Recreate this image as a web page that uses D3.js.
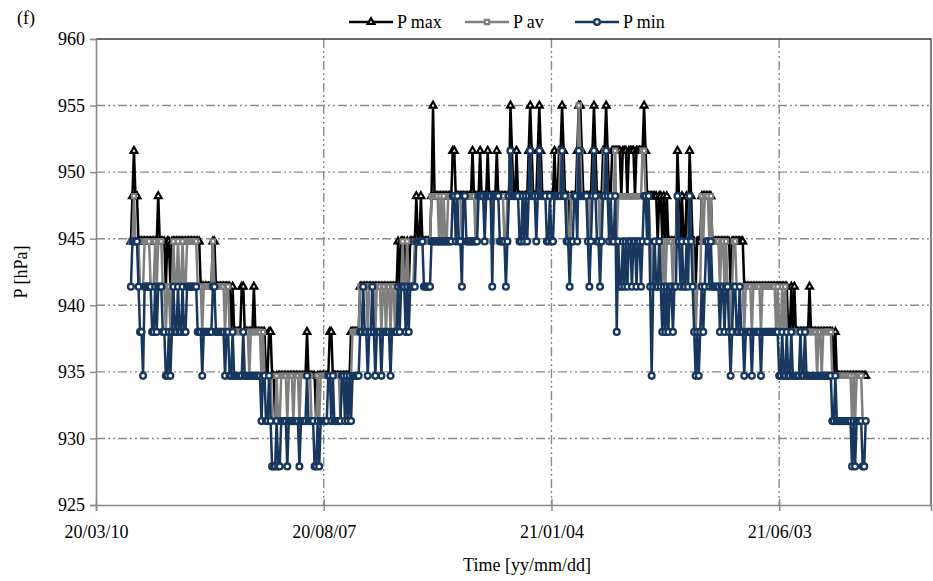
<!DOCTYPE html>
<html>
<head>
<meta charset="utf-8">
<title>P max / P av / P min</title>
<script src="https://cdn.jsdelivr.net/npm/d3@7"></script>
<style>
  body { margin: 0; background: #fff; }
  svg text { font-family: "Liberation Serif", "Times New Roman", Tinos, "DejaVu Serif", serif; fill: #000; }
</style>
</head>
<body>
<svg id="chart" width="933" height="581"></svg>
<script>
// pressure steps (0.1 inHg apart), hPa
var levels = [927.9, 931.3, 934.7, 938.0, 941.4, 944.8, 948.2, 951.6, 955.0];

// one digit per day = index into levels, 10 days per block, first day 2020-04-02
var firstDay = "2020-04-02";
var pMinCodes = [
  "4555543324", "4444334344", "4332232343", "3433433444", "4444333233",
  "3333443333", "3323322322", "2222322222", "2222221221", "1210001001",
  "1110111111", "1011112111", "1001011111", "2212111112", "2121212222",
  "2334332334", "3233323333", "3233334344", "4343444455", "5554444455",
  "5555555555", "5566565546", "6555555556", "6665666646", "6665555456",
  "7666665565", "6567666567", "6666556556", "6666766554", "5566576666",
  "6545676554", "5667656556", "3544545455", "4554554566", "5642454454",
  "3434344344", "6545445465", "4323234345", "5454444434", "4344323443",
  "3433233332", "3333323333", "3333333223", "2232232222", "2322322222",
  "2222222222", "2211211111", "1111101011", "11001"
];
var pAvCodes = [
  "5565554445", "5554445455", "5443443454", "4544544555", "5555444344",
  "4444544444", "4434433333", "3333333323", "3333332322", "2221112112",
  "2221222122", "2122222221", "1112122222", "2222222212", "2222223333",
  "3444443444", "4344434434", "4344344445", "4454444555", "5555555566",
  "6665656556", "6666666656", "6666666566", "6666666656", "6666665566",
  "7666666666", "6667666667", "6666666666", "6667766655", "6666687666",
  "6656676665", "6677666667", "5666666666", "6666666776", "6654555555",
  "4545555455", "6555555565", "5434446566", "6565555545", "5454434554",
  "4444344443", "4444434444", "4444434334", "3433333333", "3333333333",
  "3323323333", "3322222222", "2222212122", "22111"
];
var pMaxCodes = [
  "5676655555", "5555555565", "5554554555", "5555555555", "5555554444",
  "4444554444", "4444443433", "3334433333", "3433333332", "2332212222",
  "2222222222", "2222223222", "2212222222", "2332222222", "2222233333",
  "3444444444", "4444444444", "4444445455", "5454555565", "5655555568",
  "6666666666", "6677666666", "6666676666", "7666676666", "6766666666",
  "8766766666", "6678766678", "7666666667", "6677876665", "6666788766",
  "6666787666", "6778766777", "7776777677", "7767777787", "6666666566",
  "5656555555", "7656556576", "5545556666", "6665555555", "5555545555",
  "5555444444", "4444444444", "4444444444", "4443343433", "3333333433",
  "3333333333", "3332322222", "2222222222", "22222"
];

var seriesNames = ["P max", "P av", "P min"];
var seriesColors = ["#000000", "#7f7f7f", "#17375e"];
var seriesMarks = ["triangle", "square", "circle"];

var xDomain = ["2020-03-10", "2021-09-11"];
var xTickDates = ["2020-03-10", "2020-08-07", "2021-01-04", "2021-06-03"];
var yTicks = [925, 930, 935, 940, 945, 950, 955, 960];

var parse = d3.utcParse("%Y-%m-%d");
var fmt = d3.utcFormat("%y/%m/%d");
var day0 = parse(firstDay);
var serif = "'Liberation Serif', 'Times New Roman', Tinos, 'DejaVu Serif', serif";

function decode(codes) {
  return codes.join("").split("").map(function(c, i) {
    return { date: d3.utcDay.offset(day0, i), p: levels[+c] };
  });
}
var series = [decode(pMaxCodes), decode(pAvCodes), decode(pMinCodes)];

var svg = d3.select("#chart");
var plotL = 96, plotR = 931, plotT = 39, plotB = 505;

var x = d3.scaleUtc().domain(xDomain.map(parse)).range([plotL, plotR]);
var y = d3.scaleLinear().domain([925, 960]).range([plotB, plotT]);

var dash = "9,3,2,3,2,3";

// horizontal grid
svg.append("g").selectAll("line")
  .data(yTicks.slice(1, -1))
  .enter().append("line")
  .attr("x1", plotL).attr("x2", plotR)
  .attr("y1", function(d) { return y(d); }).attr("y2", function(d) { return y(d); })
  .style("stroke", "#8a8a8a").style("stroke-width", 1.4).style("stroke-dasharray", dash);

// vertical grid
svg.append("g").selectAll("line")
  .data(xTickDates.slice(1).map(parse))
  .enter().append("line")
  .attr("x1", function(d) { return x(d); }).attr("x2", function(d) { return x(d); })
  .attr("y1", plotT).attr("y2", plotB)
  .style("stroke", "#8a8a8a").style("stroke-width", 1.4).style("stroke-dasharray", dash);

// frame top + right
svg.append("path")
  .attr("d", "M" + plotL + "," + plotT + "H" + plotR + "V" + plotB)
  .style("fill", "none").style("stroke", "#3a3a3a").style("stroke-width", 1.3);

// y axis
var yAxis = d3.axisLeft(y).tickValues(yTicks).tickSize(6).tickPadding(5).tickFormat(d3.format("d"));
var gy = svg.append("g").attr("transform", "translate(" + plotL + ",0)").call(yAxis);
gy.select(".domain").style("stroke", "#888").style("stroke-width", 1.6);
gy.selectAll(".tick line").style("stroke", "#888").style("stroke-width", 1.4);
gy.selectAll(".tick text").style("font-family", serif).style("font-size", "18px");

// x axis
var xAxis = d3.axisBottom(x).tickValues(xTickDates.map(parse)).tickSize(6).tickPadding(14).tickFormat(fmt);
var gx = svg.append("g").attr("transform", "translate(0," + plotB + ")").call(xAxis);
gx.select(".domain").style("stroke", "#888").style("stroke-width", 1.6);
gx.selectAll(".tick line").attr("y1", -6).style("stroke", "#888").style("stroke-width", 1.4);
gx.selectAll(".tick text").style("font-family", serif).style("font-size", "18px");

// lines + markers
var line = d3.line().x(function(d) { return x(d.date); }).y(function(d) { return y(d.p); });
var tri = d3.symbol().type(d3.symbolTriangle).size(20)();
var sq = d3.symbol().type(d3.symbolSquare).size(18)();

function drawMarks(g, pts, i) {
  var color = seriesColors[i];
  if (seriesMarks[i] === "circle") {
    g.selectAll("circle").data(pts).enter().append("circle")
      .attr("cx", function(d) { return d[0]; })
      .attr("cy", function(d) { return d[1]; })
      .attr("r", 2.9)
      .style("fill", "#fff").style("stroke", color).style("stroke-width", 2.3);
  } else {
    g.selectAll("path.m").data(pts).enter().append("path").attr("class", "m")
      .attr("d", seriesMarks[i] === "triangle" ? tri : sq)
      .attr("transform", function(d) { return "translate(" + d[0] + "," + d[1] + ")"; })
      .style("fill", "#fff").style("stroke", color).style("stroke-width", 2.2);
  }
}

series.forEach(function(data, i) {
  var g = svg.append("g");
  g.append("path").datum(data).attr("d", line)
    .style("fill", "none").style("stroke", seriesColors[i])
    .style("stroke-width", 2.5).style("stroke-linejoin", "round");
  drawMarks(g, data.map(function(d) { return [x(d.date), y(d.p)]; }), i);
});

// legend
var legX = [349, 465, 575];
seriesNames.forEach(function(name, i) {
  var g = svg.append("g").attr("transform", "translate(" + legX[i] + ",22)");
  g.append("line").attr("x1", 0).attr("x2", 44)
    .style("stroke", seriesColors[i]).style("stroke-width", 2.5);
  drawMarks(g, [[22, 0]], i);
  g.append("text").attr("x", 48).attr("y", 6)
    .style("font-family", serif).style("font-size", "18px").text(name);
});

// axis titles and panel tag
svg.append("text").attr("x", 527).attr("y", 571).attr("text-anchor", "middle")
  .style("font-family", serif).style("font-size", "18px").text("Time [yy/mm/dd]");
svg.append("text").attr("transform", "translate(27,272) rotate(-90)").attr("text-anchor", "middle")
  .style("font-family", serif).style("font-size", "18px").text("P [hPa]");
svg.append("text").attr("x", 17).attr("y", 24)
  .style("font-family", serif).style("font-size", "18px").text("(f)");
</script>
</body>
</html>
